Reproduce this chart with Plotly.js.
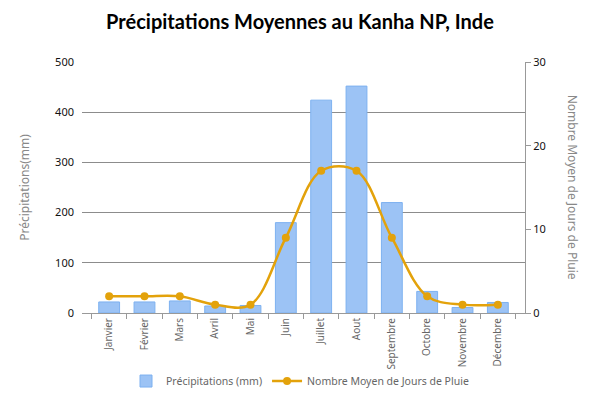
<!DOCTYPE html>
<html>
<head>
<meta charset="utf-8">
<script src="https://cdn.plot.ly/plotly-3.0.1.min.js"></script>
<style>html,body{margin:0;padding:0;background:#fff;}#chart{width:600px;height:399px;}</style>
</head>
<body>
<div id="chart"></div>
<script>
const months = ["Janvier","Février","Mars","Avril","Mai","Juin","Juillet","Aout","Septembre","Octobre","Novembre","Décembre"];
const precipitation = [22, 22, 24, 14, 15, 180, 424, 452, 220, 43, 11, 21];
const rainyDays = [2, 2, 2, 1, 1, 9, 17, 17, 9, 2, 1, 1];
const leftTicks = [0, 100, 200, 300, 400, 500];
const rightTicks = [0, 10, 20, 30];

const font = "Noto Sans, Open Sans, sans-serif";
const traces = [
  {
    type: "bar", x: months, y: precipitation, name: "Précipitations (mm)",
    marker: {color: "#9cc3f5", line: {color: "#7db1f0", width: 1}},
    yaxis: "y"
  },
  {
    type: "scatter", mode: "lines+markers", x: months, y: rainyDays,
    name: "Nombre Moyen de Jours de Pluie",
    line: {color: "#e3a20b", width: 2.5, shape: "spline", smoothing: 1},
    marker: {color: "#e3a20b", size: 8},
    yaxis: "y2"
  }
];
const layout = {
  width: 600, height: 399,
  margin: {l: 82, r: 75, t: 62, b: 86},
  paper_bgcolor: "#fff", plot_bgcolor: "#fff",
  font: {family: font, size: 11, color: "#222"},
  title: {text: "Précipitations Moyennes au Kanha NP, Inde", font: {family: "Lato, Open Sans, sans-serif", size: 20, color: "#000", weight: "bold"}, x: 0.5, xanchor: "center", y: 0.945, yanchor: "middle"},
  bargap: 0.41,
  showlegend: true,
  legend: {orientation: "h", xref: "container", yref: "container", x: 0.5, xanchor: "center", y: 0.045, yanchor: "middle", bgcolor: "rgba(0,0,0,0)", font: {size: 10.5, color: "#666"}},
  xaxis: {
    type: "category", tickangle: -90, tickfont: {size: 10, color: "#666"}, automargin: false,
    showline: true, linecolor: "#999", linewidth: 1, ticks: "outside", tickson: "boundaries",
    ticklen: 5, tickcolor: "#999", showgrid: false
  },
  yaxis: {
    range: [0, 500], tickvals: leftTicks, showgrid: true, gridcolor: "#8c8c8c", gridwidth: 1, automargin: false,
    zeroline: false, showline: false, tickfont: {size: 11, color: "#111"}, ticks: "", ticklabelstandoff: 7,
    title: {text: "Précipitations(mm)", font: {size: 12, color: "#888"}, standoff: 22}
  },
  yaxis2: {
    range: [0, 30], tickvals: rightTicks, overlaying: "y", side: "right", showgrid: false, automargin: false,
    zeroline: false, showline: true, linecolor: "#999", ticks: "outside", ticklen: 5, tickcolor: "#999",
    tickfont: {size: 11, color: "#111"}
  },
  annotations: [
    {text: "Nombre Moyen de Jours de Pluie", textangle: 90, xref: "paper", yref: "paper",
     x: 1.108, y: 0.5, xanchor: "center", yanchor: "middle", showarrow: false,
     font: {size: 12, color: "#888"}}
  ]
};
Plotly.newPlot("chart", traces, layout, {displayModeBar: false, staticPlot: true});
</script>
</body>
</html>
